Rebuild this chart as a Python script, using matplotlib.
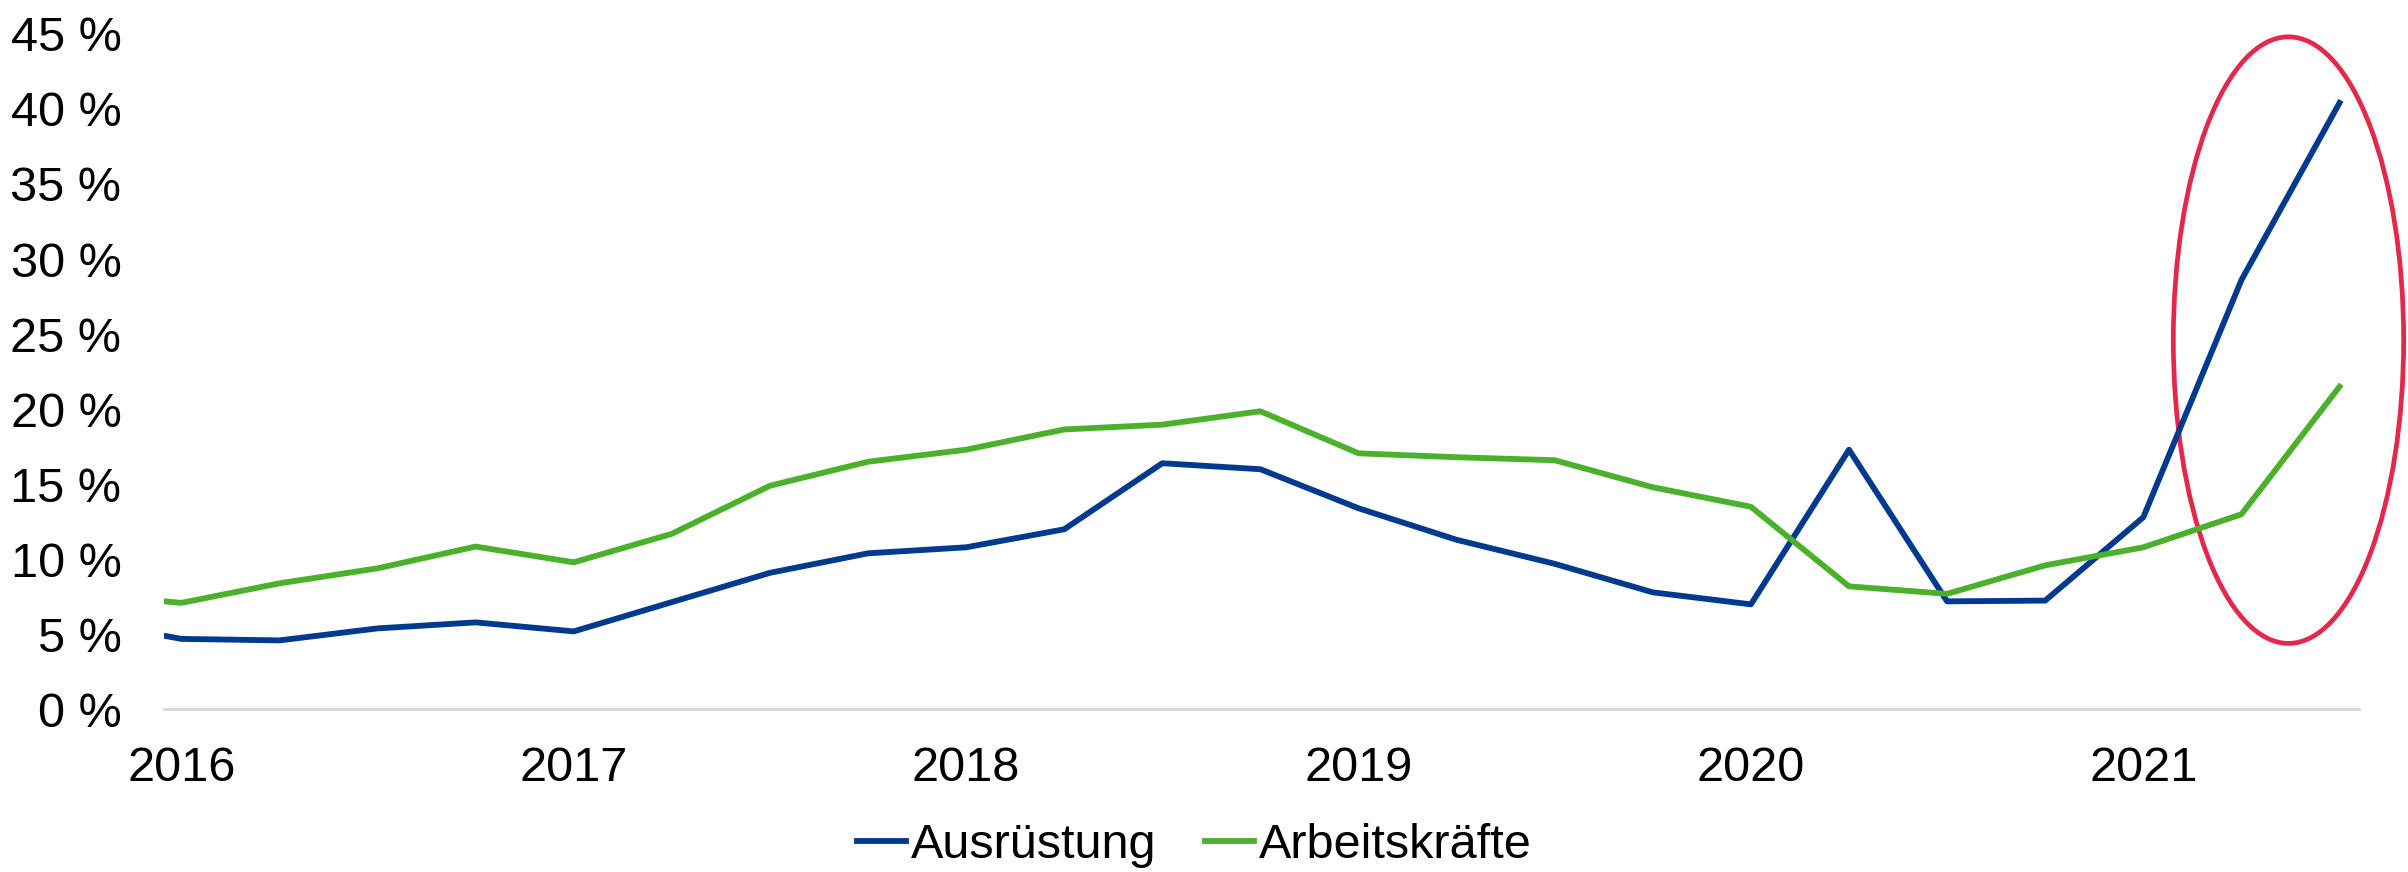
import matplotlib.pyplot as plt
from matplotlib.patches import Ellipse

plt.rcParams['font.family'] = ['Liberation Sans', 'DejaVu Sans']

# quarterly dates (year fraction), first point is Q4 2015
quarters = [2015.75 + 0.25 * i for i in range(24)]
ausruestung = [5.9, 4.7, 4.6, 5.4, 5.8, 5.2, 7.15, 9.1, 10.4, 10.8, 12.0, 16.4,
               16.0, 13.4, 11.3, 9.7, 7.8, 7.0, 17.3, 7.2, 7.25, 12.8, 28.6, 40.4]
arbeitskraefte = [7.7, 7.1, 8.4, 9.4, 10.85, 9.8, 11.7, 14.9, 16.5, 17.3, 18.65, 18.97,
                  19.86, 17.06, 16.8, 16.6, 14.8, 13.5, 8.2, 7.7, 9.6, 10.8, 13.0, 21.5]
years = [2016, 2017, 2018, 2019, 2020, 2021]
yticks = list(range(0, 50, 5))

fig = plt.figure(figsize=(24.08, 8.72), dpi=100)
ax = fig.add_axes([0.0683, 0.1864, 0.9114, 0.7748])

ax.plot(quarters, ausruestung, color='#003A8F', lw=4.2, label='Ausrüstung')
ax.plot(quarters, arbeitskraefte, color='#4BB02B', lw=4.2, label='Arbeitskräfte')

ax.set_xlim(2015.957, 2021.55)
ax.set_ylim(0, 45)
ax.set_xticks(years)
ax.set_xticklabels([str(y) for y in years])
ax.set_yticks(yticks)
ax.set_yticklabels([f'{v} %' for v in yticks])
ax.tick_params(axis='both', length=0, labelsize=35)
ax.tick_params(axis='y', pad=31)
ax.tick_params(axis='x', pad=26)

for side in ['top', 'right', 'left']:
    ax.spines[side].set_visible(False)
ax.spines['bottom'].set_color('#D9D9D9')
ax.spines['bottom'].set_linewidth(2)

# highlight of the last two quarters
ell = Ellipse((2021.37, 24.6), 0.587, 40.4, fill=False, edgecolor='#E4284B',
              lw=3.4, clip_on=False)
ax.add_patch(ell)

fig.legend(loc='center', bbox_to_anchor=(0.496, 0.03), ncol=2, frameon=False,
           prop={'family': ['Liberation Sans Narrow', 'Liberation Sans'], 'size': 35},
           handlelength=1.0, handletextpad=0.1, columnspacing=1.0)

fig.savefig('out.png', dpi=100)
